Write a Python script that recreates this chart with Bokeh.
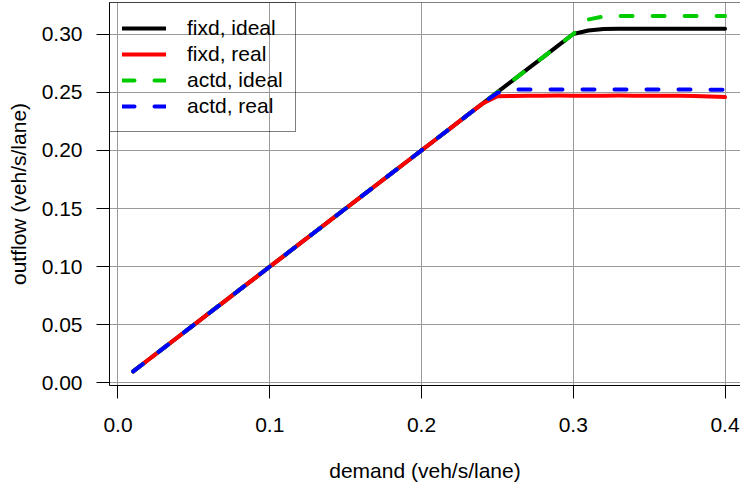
from bokeh.plotting import figure
from bokeh.models import Range1d, FixedTicker, Span, Legend, LegendItem
from bokeh.embed import file_html
from bokeh.resources import INLINE

demand = [0.01, 0.02, 0.03, 0.04, 0.05, 0.06, 0.07, 0.08, 0.09, 0.10,
          0.11, 0.12, 0.13, 0.14, 0.15, 0.16, 0.17, 0.18, 0.19, 0.20,
          0.21, 0.22, 0.23, 0.24, 0.25, 0.26, 0.27, 0.28, 0.29, 0.30,
          0.31, 0.32, 0.33, 0.34, 0.35, 0.36, 0.37, 0.38, 0.39, 0.40]

fixd_ideal = [0.010, 0.020, 0.030, 0.040, 0.050, 0.060, 0.070, 0.080, 0.090, 0.100,
              0.110, 0.120, 0.130, 0.140, 0.150, 0.160, 0.170, 0.180, 0.190, 0.200,
              0.210, 0.220, 0.230, 0.240, 0.250, 0.260, 0.270, 0.280, 0.290, 0.300,
              0.3030, 0.3044, 0.3045, 0.3045, 0.3045, 0.3045, 0.3045, 0.3045, 0.3045, 0.3045]

fixd_real = [0.010, 0.020, 0.030, 0.040, 0.050, 0.060, 0.070, 0.080, 0.090, 0.100,
             0.110, 0.120, 0.130, 0.140, 0.150, 0.160, 0.170, 0.180, 0.190, 0.200,
             0.210, 0.220, 0.230, 0.240, 0.2465, 0.2468, 0.2470, 0.2470, 0.2471, 0.2470,
             0.2469, 0.2470, 0.2471, 0.2470, 0.2470, 0.2469, 0.2470, 0.2468, 0.2462, 0.2458]

actd_ideal = [0.010, 0.020, 0.030, 0.040, 0.050, 0.060, 0.070, 0.080, 0.090, 0.100,
              0.110, 0.120, 0.130, 0.140, 0.150, 0.160, 0.170, 0.180, 0.190, 0.200,
              0.210, 0.220, 0.230, 0.240, 0.250, 0.260, 0.270, 0.280, 0.290, 0.300,
              0.3125, 0.3152, 0.3154, 0.3155, 0.3155, 0.3155, 0.3155, 0.3155, 0.3155, 0.3155]

actd_real = [0.010, 0.020, 0.030, 0.040, 0.050, 0.060, 0.070, 0.080, 0.090, 0.100,
             0.110, 0.120, 0.130, 0.140, 0.150, 0.160, 0.170, 0.180, 0.190, 0.200,
             0.210, 0.220, 0.230, 0.240, 0.2495, 0.2523, 0.2523, 0.2523, 0.2523, 0.2523,
             0.2523, 0.2523, 0.2523, 0.2523, 0.2523, 0.2523, 0.2523, 0.2522, 0.2522, 0.2522]

series_labels = ["fixd, ideal", "fixd, real", "actd, ideal", "actd, real"]
x_ticks = [0.0, 0.1, 0.2, 0.3, 0.4]
x_tick_labels = ["0.0", "0.1", "0.2", "0.3", "0.4"]
y_ticks = [0.00, 0.05, 0.10, 0.15, 0.20, 0.25, 0.30]
y_tick_labels = ["0.00", "0.05", "0.10", "0.15", "0.20", "0.25", "0.30"]

FONT = "Liberation Sans"
FS = "21px"

p = figure(width=740, height=493, output_backend="svg", toolbar_location=None,
           x_range=Range1d(-0.0056, 0.4102), y_range=Range1d(-0.00215, 0.3271),
           min_border_left=109, min_border_right=0, min_border_top=2, min_border_bottom=108)

p.outline_line_color = None
p.background_fill_color = "white"
p.border_fill_color = "white"

for ax in (p.xaxis[0], p.yaxis[0]):
    ax.axis_line_color = "black"
    ax.axis_line_width = 1
    ax.major_tick_line_color = "black"
    ax.major_tick_line_width = 1
    ax.major_tick_in = 0
    ax.major_tick_out = 13
    ax.minor_tick_line_color = None
    ax.major_label_text_font = FONT
    ax.major_label_text_font_size = FS
    ax.major_label_text_color = "black"
    ax.axis_label_text_font = FONT
    ax.axis_label_text_font_size = FS
    ax.axis_label_text_font_style = "normal"
    ax.axis_label_text_color = "black"

p.xaxis.ticker = FixedTicker(ticks=x_ticks)
p.xaxis.major_label_overrides = dict(zip(x_ticks, x_tick_labels))
p.yaxis.ticker = FixedTicker(ticks=y_ticks)
p.yaxis.major_label_overrides = dict(zip(y_ticks, y_tick_labels))
p.xaxis.axis_label = "demand (veh/s/lane)"
p.yaxis.axis_label = "outflow (veh/s/lane)"
p.xaxis.major_label_standoff = 19
p.xaxis.axis_label_standoff = 24
p.yaxis.major_label_standoff = 14
p.yaxis.axis_label_standoff = 9

p.xgrid.grid_line_color = "#9a9a9a"
p.ygrid.grid_line_color = "#9a9a9a"
p.xgrid.grid_line_width = 1
p.ygrid.grid_line_width = 1

top_edge = Span(location=p.y_range.end, dimension="width", line_color="black", line_width=1)
p.add_layout(top_edge)

r1 = p.line(demand, fixd_ideal, line_color="black", line_width=4, line_join="round", line_cap="round")
r2 = p.line(demand, fixd_real, line_color="#FF0000", line_width=4, line_join="round", line_cap="round")
r3 = p.line(demand, actd_ideal, line_color="#00CD00", line_width=4, line_dash="12 20",
            line_join="round", line_cap="round")
r4 = p.line(demand, actd_real, line_color="#0000FF", line_width=4, line_dash="12 20",
            line_join="round", line_cap="round")

legend = Legend(items=[LegendItem(label=lab, renderers=[r]) for lab, r in
                       zip(series_labels, [r1, r2, r3, r4])],
                location="top_left", margin=0, padding=12, spacing=0,
                glyph_width=44, glyph_height=26, label_height=26, label_standoff=21,
                label_text_font=FONT, label_text_font_size=FS, label_text_color="black",
                border_line_color="black", border_line_width=1,
                background_fill_alpha=0)
p.add_layout(legend)

open("out.html", "w").write(file_html(p, INLINE))
